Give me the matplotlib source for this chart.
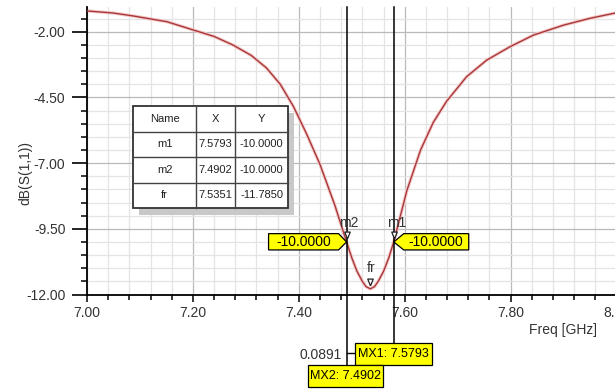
import matplotlib
matplotlib.use("Agg")
import matplotlib.pyplot as plt
from matplotlib import patches, transforms

W, H, DPI = 615, 390, 100

# S(1,1) sweep, frequency in GHz and magnitude in dB
freq_ghz = [7.000, 7.050, 7.087, 7.151, 7.200, 7.240, 7.276, 7.310, 7.339,
            7.365, 7.390, 7.415, 7.440, 7.468, 7.4902, 7.500, 7.510, 7.520,
            7.527, 7.5351, 7.543, 7.550, 7.560, 7.570, 7.5793, 7.604, 7.630,
            7.654, 7.679, 7.717, 7.755, 7.799, 7.843, 7.900, 7.950, 8.000]
s11_db = [-1.21, -1.29, -1.40, -1.62, -1.93, -2.18, -2.51, -2.90, -3.38,
          -4.00, -4.85, -5.90, -7.05, -8.60, -10.00, -10.60, -11.12, -11.50,
          -11.70, -11.785, -11.70, -11.50, -11.12, -10.60, -10.00, -8.05, -6.50,
          -5.45, -4.65, -3.71, -3.08, -2.57, -2.13, -1.75, -1.49, -1.28]

marker_names = ["m1", "m2", "fr"]
marker_freq = [7.5793, 7.4902, 7.5351]
marker_db = [-10.0, -10.0, -11.7850]

x_ticks = [7.0, 7.2, 7.4, 7.6, 7.8, 8.0]
y_ticks = [-12.0, -9.5, -7.0, -4.5, -2.0]

FONT = ["Liberation Sans", "DejaVu Sans"]
TEXT = "#333333"
YELLOW = "#ffff00"
FS = 10
plt.rcParams["font.family"] = FONT

fig = plt.figure(figsize=(W / DPI, H / DPI), dpi=DPI)
ax_top, ax_bot = 7.0, 294.5
ax = fig.add_axes([87 / W, 1 - ax_bot / H, 529.5 / W, (ax_bot - ax_top) / H])

ax.set_xlim(7.0, 8.0)
ax.set_ylim(-12.0, -1.06)
ax.set_xticks(x_ticks)
ax.set_yticks(y_ticks)
ax.set_xticks([7.0 + 0.04 * i for i in range(26)], minor=True)
ax.set_yticks([-12.0 + 0.5 * i for i in range(22)], minor=True)
ax.xaxis.set_major_formatter(plt.FormatStrFormatter("%.2f"))
ax.yaxis.set_major_formatter(plt.FormatStrFormatter("%.2f"))

for side in ("top", "right"):
    ax.spines[side].set_visible(False)
for side in ("left", "bottom"):
    ax.spines[side].set_color("black")
    ax.spines[side].set_linewidth(1.3)

ax.tick_params(axis="y", which="major", length=11, width=1.2, pad=4.5,
               labelsize=FS, labelcolor=TEXT)
ax.tick_params(axis="y", which="minor", length=4.5, width=1.1)
ax.tick_params(axis="x", which="major", length=5, width=1.1, pad=3.5,
               labelsize=FS, labelcolor=TEXT)
ax.tick_params(axis="x", which="minor", length=3.5, width=1.1)

ax.set_axisbelow(True)
ax.grid(which="major", color="#bababa", lw=0.9)
ax.grid(which="minor", color="#e4e4e4", lw=0.9)

ax.plot(freq_ghz, s11_db, color="#f4c8c8", lw=2.4, zorder=2)
ax.plot(freq_ghz, s11_db, color="#a8383a", lw=1.0, zorder=3)

blend = transforms.blended_transform_factory(ax.transData, ax.transAxes)
span = ax_bot - ax_top


def px_below(p):
    # pixels below the x axis, expressed in axes fraction
    return -p / span


def anchored(x, y, base):
    return fig.dpi_scale_trans + transforms.ScaledTranslation(x, y, base)


# marker lines for m1 / m2 run down to their readout boxes
f_m1, f_m2 = marker_freq[0], marker_freq[1]
ax.plot([f_m1, f_m1], [1, px_below(48.8)], transform=blend, clip_on=False,
        color="black", lw=1.1, zorder=4)
ax.plot([f_m2, f_m2], [1, px_below(70.5)], transform=blend, clip_on=False,
        color="black", lw=1.1, zorder=4)

# open triangles sitting just above each marker point
tri = [(0, 0.55), (-0.42, 1.6), (0.42, 1.6), (0, 0.55)]
ax.plot(marker_freq, marker_db, linestyle="none", marker=tri, markersize=15,
        markerfacecolor="white", markeredgecolor="#222222", markeredgewidth=0.9,
        zorder=5)
label_dx = [2.5, 2.5, 0.5]
label_dy = [19, 19, 21]
for name, f, v, dx, dy in zip(marker_names, marker_freq, marker_db, label_dx, label_dy):
    ax.annotate(name, (f, v), xytext=(dx, dy), textcoords="offset pixels",
                ha="center", va="center", fontsize=FS, color=TEXT, zorder=6)


def flag(f, v, side):
    # yellow value tag pointing at a marker
    if side == "left":
        pts = [(0, 0), (-8, 8.3), (-78, 8.3), (-78, -8), (-8, -8)]
        cx = -43
    else:
        pts = [(0, 0), (10, 8.3), (75, 8.3), (75, -8), (10, -8)]
        cx = 42
    tr = anchored(f, v, ax.transData)
    poly = patches.Polygon([(a / DPI, b / DPI) for a, b in pts], closed=True,
                           facecolor=YELLOW, edgecolor="black", lw=0.9,
                           transform=tr, zorder=6)
    fig.add_artist(poly)
    fig.text(cx / DPI, 0, f"{v:.4f}", transform=tr, ha="center", va="center",
             fontsize=FS, color="black", zorder=7)


flag(f_m2, marker_db[1], "left")
flag(f_m1, marker_db[0], "right")


def readout(f, x0, x1, y0, y1, s):
    # boxed readout below the x axis, offsets in pixels from the marker line
    tr = anchored(f, 0, blend)
    rect = patches.Rectangle((x0 / DPI, -y1 / DPI), (x1 - x0) / DPI,
                             (y1 - y0) / DPI, facecolor=YELLOW,
                             edgecolor="black", lw=0.9, transform=tr, zorder=6)
    fig.add_artist(rect)
    fig.text((x0 + x1) / 2 / DPI, -(y0 + y1) / 2 / DPI, s, transform=tr,
             ha="center", va="center", fontsize=9, color="black", zorder=7)


readout(f_m1, -38.7, 38.3, 48.8, 70.5, f"MX1: {f_m1:.4f}")
readout(f_m2, -38.3, 36.7, 70.5, 92.5, f"MX2: {f_m2:.4f}")

tr_m2 = anchored(f_m2, 0, blend)
fig.add_artist(plt.Line2D([0, 8.5 / DPI], [-58.5 / DPI, -58.5 / DPI],
                          transform=tr_m2, color="black", lw=1.0))
fig.text(-5 / DPI, -60.5 / DPI, f"{f_m1 - f_m2:.4f}", transform=tr_m2,
         ha="right", va="center", fontsize=FS, color=TEXT)

# marker table, drawn in top-down pixel coordinates
PIX = transforms.Affine2D().scale(1 / W, -1 / H).translate(0, 1) + fig.transFigure
col_x = [133.3, 196.0, 235.0, 288.3]
row_y = [106.0, 131.5, 157.0, 182.5, 208.0]
shadow = patches.Rectangle((col_x[0] + 6, row_y[0] + 7), col_x[-1] - col_x[0],
                           row_y[-1] - row_y[0], facecolor="#c8c8c8",
                           edgecolor="none", transform=PIX, zorder=5)
fig.add_artist(shadow)
frame = patches.Rectangle((col_x[0], row_y[0]), col_x[-1] - col_x[0],
                          row_y[-1] - row_y[0], facecolor="white",
                          edgecolor="#333333", lw=1.3, transform=PIX, zorder=6)
fig.add_artist(frame)
for cx in col_x[1:-1]:
    fig.add_artist(plt.Line2D([cx, cx], [row_y[0], row_y[-1]], transform=PIX,
                              color="#444444", lw=1.0, zorder=7))
for ry in row_y[1:-1]:
    fig.add_artist(plt.Line2D([col_x[0], col_x[-1]], [ry, ry], transform=PIX,
                              color="#444444", lw=1.0, zorder=7))

rows = [["Name", "X", "Y"]]
for name, f, v in zip(marker_names, marker_freq, marker_db):
    rows.append([name, f"{f:.4f}", f"{v:.4f}"])
for r, row in enumerate(rows):
    for c, cell in enumerate(row):
        fig.text((col_x[c] + col_x[c + 1]) / 2, (row_y[r] + row_y[r + 1]) / 2,
                 cell, transform=PIX, ha="center", va="center", fontsize=8,
                 color="#222222", zorder=8)

fig.text(25, 173, "dB(S(1,1))", transform=PIX, rotation=90, ha="center",
         va="center", fontsize=FS, color=TEXT)
fig.text(563, 330, "Freq [GHz]", transform=PIX, ha="center", va="center",
         fontsize=FS, color=TEXT)

fig.savefig("out.png", dpi=DPI, facecolor="white")
